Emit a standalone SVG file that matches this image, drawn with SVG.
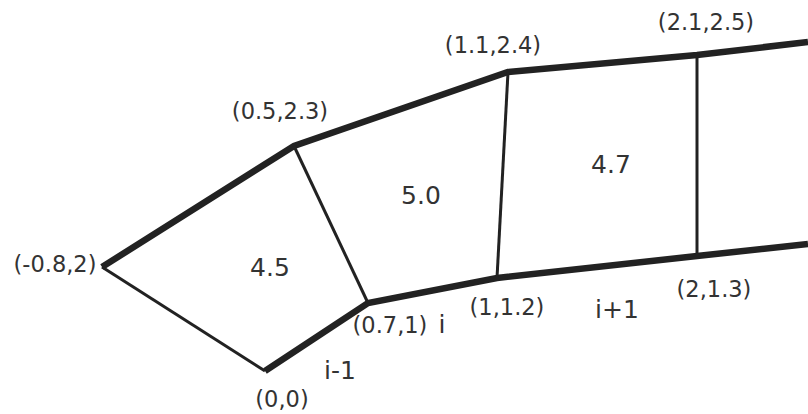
<svg xmlns="http://www.w3.org/2000/svg" width="808" height="414" viewBox="0 0 808 414">
<style>
.thick{fill:none;stroke:#222;stroke-width:6.5;stroke-linejoin:miter;stroke-linecap:butt}
.thin{fill:none;stroke:#222;stroke-width:3}
.lbl{font-family:"DejaVu Sans",Verdana,sans-serif;font-size:22.5px;fill:#333;text-anchor:middle}
.val{font-family:"DejaVu Sans",Verdana,sans-serif;font-size:25px;fill:#333;text-anchor:middle}
</style>
<rect width="808" height="414" fill="#fff"/>
<g id="connectors">
<polyline class="thick" points="102,267 294,146 508,72 697,55 808,42"/>
<polyline class="thick" points="265,371 368,303 497,278 697,256 808,244"/>
<line class="thin" x1="102" y1="267" x2="265" y2="371"/>
<line class="thin" x1="294" y1="146" x2="368" y2="303"/>
<line class="thin" x1="508" y1="72" x2="497" y2="278"/>
<line class="thin" x1="697" y1="55" x2="697" y2="256"/>
</g>
<g id="cell-i-1"><text class="val" x="270" y="276">4.5</text></g>
<g id="cell-i"><text class="val" x="421" y="204">5.0</text></g>
<g id="cell-i+1"><text class="val" x="611" y="173">4.7</text></g>
<g id="p-m08-2"><text class="lbl" x="55" y="272">(-0.8,2)</text></g>
<g id="p-05-23"><text class="lbl" x="280" y="119">(0.5,2.3)</text></g>
<g id="p-11-24"><text class="lbl" x="493" y="53">(1.1,2.4)</text></g>
<g id="p-21-25"><text class="lbl" x="706" y="30">(2.1,2.5)</text></g>
<g id="p-0-0"><text class="lbl" x="282" y="407">(0,0)</text></g>
<g id="p-07-1"><text class="lbl" x="390" y="333">(0.7,1)</text></g>
<g id="p-1-12"><text class="lbl" x="507" y="315">(1,1.2)</text></g>
<g id="p-2-13"><text class="lbl" x="714" y="297">(2,1.3)</text></g>
<g id="idx-i-1"><text class="val" x="340" y="379">i-1</text></g>
<g id="idx-i"><text class="val" x="442" y="333">i</text></g>
<g id="idx-i+1"><text class="val" x="617" y="318">i+1</text></g>
</svg>
